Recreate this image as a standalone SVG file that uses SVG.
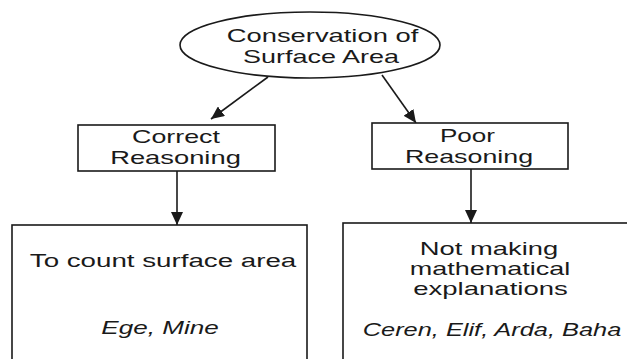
<svg xmlns="http://www.w3.org/2000/svg" width="627" height="359" viewBox="0 0 627 359">
<defs>
<marker id="arr" markerUnits="userSpaceOnUse" markerWidth="14" markerHeight="12" refX="13" refY="6" orient="auto">
<path d="M0,0 L13,6 L0,12 Z" fill="#1a1a1a"/>
</marker>
</defs>
<style>
.shape{fill:#fff;stroke:#1a1a1a;stroke-width:1.6}
.t{font-family:"Liberation Sans",Arial,sans-serif;font-size:18px;fill:#1a1a1a;text-anchor:middle}
.i{font-style:italic}
.c{fill:none;stroke:#1a1a1a;stroke-width:1.6}
</style>
<rect width="627" height="359" fill="#fff"/>
<g id="connectors">
<line class="c" x1="268" y1="77" x2="211" y2="119" marker-end="url(#arr)"/>
<line class="c" x1="382" y1="75" x2="416" y2="123" marker-end="url(#arr)"/>
<line class="c" x1="177" y1="171" x2="177" y2="225" marker-end="url(#arr)"/>
<line class="c" x1="471" y1="169" x2="471" y2="223" marker-end="url(#arr)"/>
</g>
<g id="root">
<ellipse class="shape" cx="310" cy="45" rx="130" ry="33"/>
<text class="t" transform="translate(322.5,42) scale(1.52,1)">Conservation of</text>
<text class="t" transform="translate(321,63) scale(1.5,1)">Surface Area</text>
</g>
<g id="correct">
<rect class="shape" x="78" y="125" width="197" height="46"/>
<text class="t" transform="translate(176,143) scale(1.49,1)">Correct</text>
<text class="t" transform="translate(175.5,164) scale(1.52,1)">Reasoning</text>
</g>
<g id="poor">
<rect class="shape" x="372" y="123" width="196" height="46"/>
<text class="t" transform="translate(467.5,142) scale(1.45,1)">Poor</text>
<text class="t" transform="translate(469,163) scale(1.49,1)">Reasoning</text>
</g>
<g id="count">
<rect class="shape" x="12" y="225" width="295" height="145"/>
<text class="t" transform="translate(163,267) scale(1.54,1)">To count surface area</text>
<text class="t i" transform="translate(160,334) scale(1.45,1)">Ege, Mine</text>
</g>
<g id="notmaking">
<rect class="shape" x="343" y="223" width="294" height="147"/>
<text class="t" transform="translate(489,255) scale(1.52,1)">Not making</text>
<text class="t" transform="translate(490,275) scale(1.5,1)">mathematical</text>
<text class="t" transform="translate(490.5,295) scale(1.53,1)">explanations</text>
<text class="t i" transform="translate(492,336) scale(1.41,1)">Ceren, Elif, Arda, Baha</text>
</g>
</svg>
